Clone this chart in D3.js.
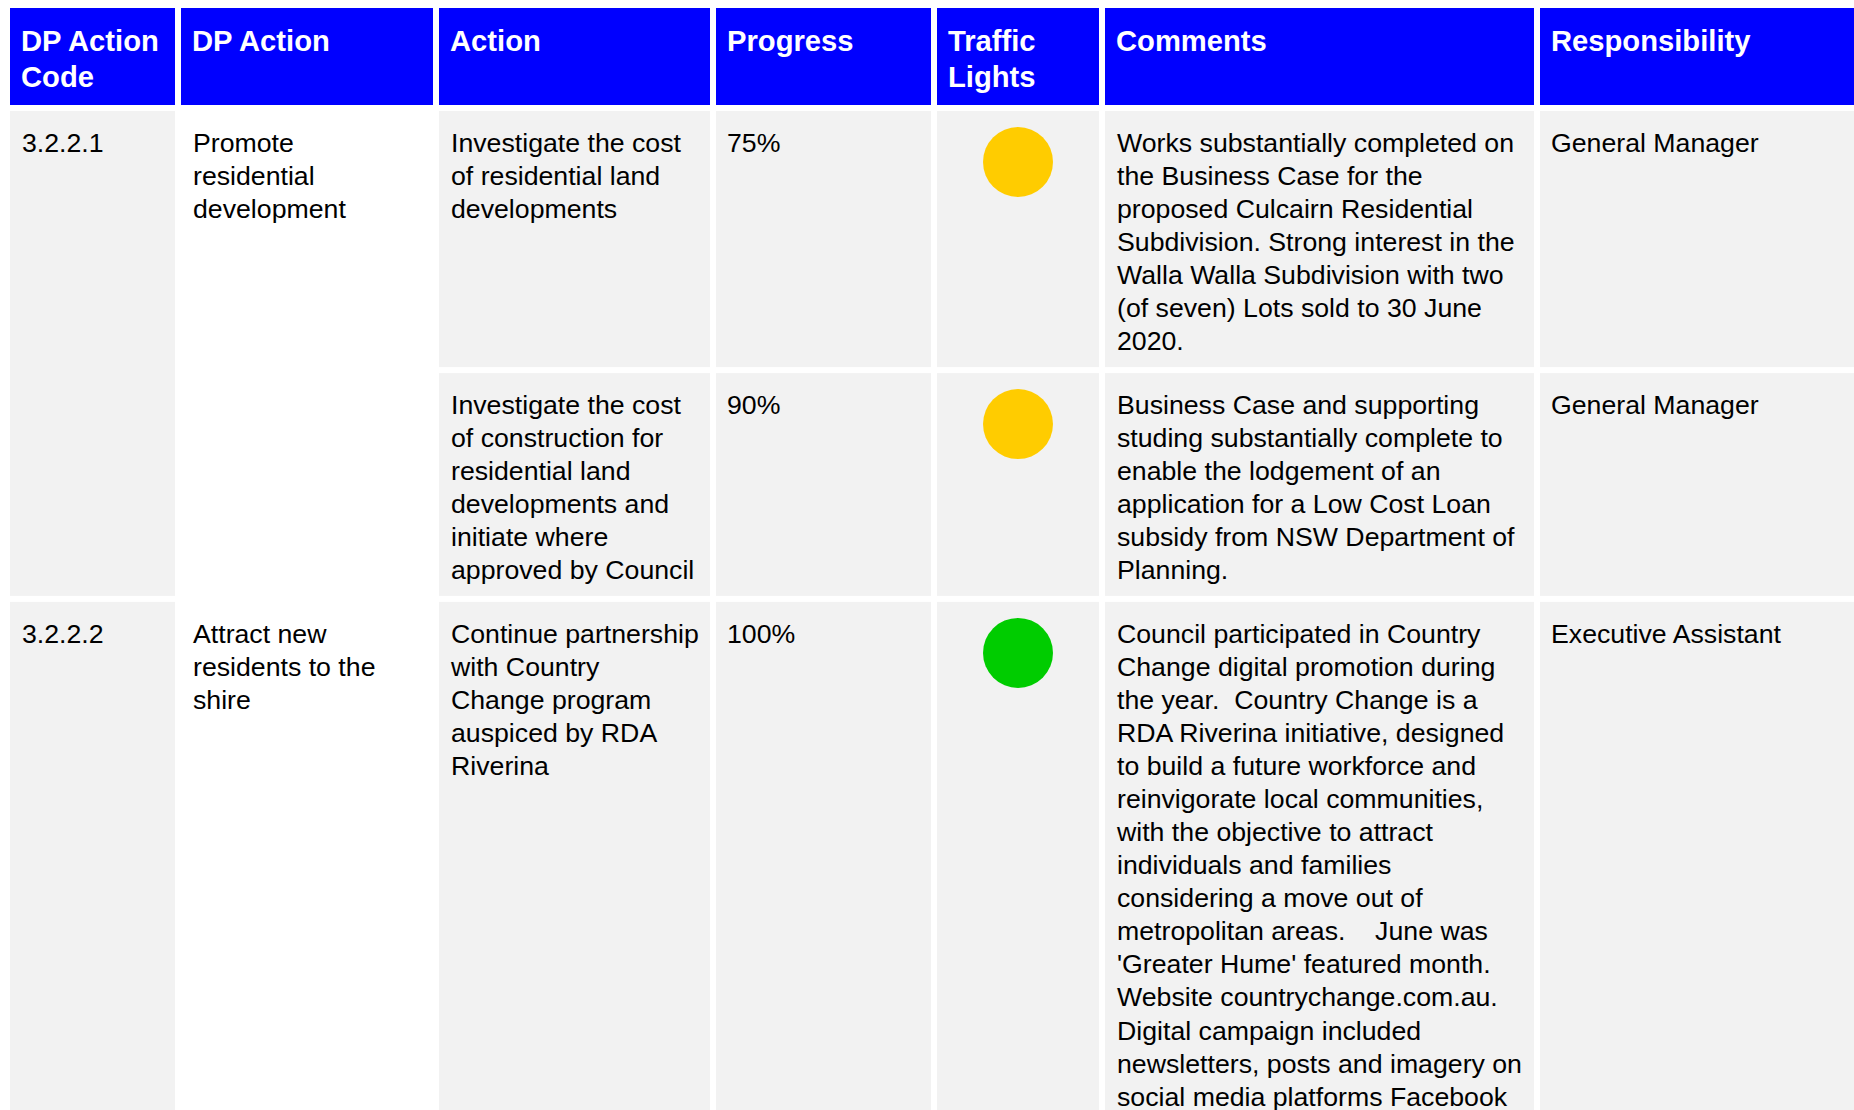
<!DOCTYPE html>
<html><head><meta charset="utf-8">
<script src="https://cdn.jsdelivr.net/npm/d3@7/dist/d3.min.js"></script>
<style>
html,body{margin:0;padding:0;background:#fff;overflow:hidden}
text{white-space:pre}
</style>
</head><body>
<svg id="c" width="1854" height="1110"></svg>
<script>
// ---------- data ----------
const headers = [["DP Action","Code"],["DP Action"],["Action"],["Progress"],["Traffic","Lights"],["Comments"],["Responsibility"]];
const codes = ["3.2.2.1","3.2.2.2"];
const dpActions = [["Promote","residential","development"],["Attract new","residents to the","shire"]];
const groupOfRow = [0,0,1];
const actions = [
  ["Investigate the cost","of residential land","developments"],
  ["Investigate the cost","of construction for","residential land","developments and","initiate where","approved by Council"],
  ["Continue partnership","with Country","Change program","auspiced by RDA","Riverina"]
];
const progress = ["75%","90%","100%"];
const lights = ["amber","amber","green"];
const comments = [
  ["Works substantially completed on","the Business Case for the","proposed Culcairn Residential","Subdivision. Strong interest in the","Walla Walla Subdivision with two","(of seven) Lots sold to 30 June","2020."],
  ["Business Case and supporting","studing substantially complete to","enable the lodgement of an","application for a Low Cost Loan","subsidy from NSW Department of","Planning."],
  ["Council participated in Country","Change digital promotion during","the year.  Country Change is a","RDA Riverina initiative, designed","to build a future workforce and","reinvigorate local communities,","with the objective to attract","individuals and families","considering a move out of","metropolitan areas.    June was","'Greater Hume' featured month.","Website countrychange.com.au.","Digital campaign included","newsletters, posts and imagery on","social media platforms Facebook"]
];
const responsibility = ["General Manager","General Manager","Executive Assistant"];

// ---------- layout / style ----------
const colWidths = [165,252,271,215,162,429,330];
const gap = 6, x0 = 10, headTop = 8, headH = 97, bodyTop = 111;
const padX = 12, firstBase = 41, lineH = 33.05, rowLineH = 33.3, headLineH = 36.3, headBase = 43;
const lightColor = {amber:"#FFCC00", green:"#00CC00"};
const BLUE = "#0000FF", GREY = "#F2F2F2";
const bodyFont = "26.7px", headFont = "29.2px";

const colX = [];
colWidths.reduce((acc,w,i)=>{colX[i]=acc; return acc+w+gap;}, x0);

const svg = d3.select("#c");
svg.append("rect").attr("width",1854).attr("height",1110).attr("fill","#fff");

// header
const hg = svg.append("g");
hg.selectAll("rect").data(headers).join("rect")
  .attr("x",(d,i)=>colX[i]).attr("y",headTop).attr("width",(d,i)=>colWidths[i]).attr("height",headH)
  .attr("fill",BLUE);
hg.selectAll("text").data(headers).join("text")
  .attr("x",(d,i)=>colX[i]+padX-1).attr("y",headTop+headBase)
  .attr("font-family","'Liberation Sans', Arial, sans-serif").attr("font-weight","bold")
  .attr("font-size",headFont).attr("fill","#fff")
  .each(function(lines,i){
    d3.select(this).selectAll("tspan").data(lines).join("tspan")
      .attr("x",colX[i]+padX-1).attr("dy",(l,j)=>j?headLineH:0).text(l=>l);
  });

// rows
const rowLines = actions.map((a,i)=>Math.max(a.length, comments[i].length, dpActions[groupOfRow[i]].length));
const rowH = rowLines.map(n=>23+n*rowLineH);
const rowY = [];
rowH.reduce((acc,h,i)=>{rowY[i]=acc; return acc+h+gap;}, bodyTop);

const groups = codes.map((c,g)=>{
  const idx = groupOfRow.map((gg,i)=>gg===g?i:-1).filter(i=>i>=0);
  const top = rowY[idx[0]], last = idx[idx.length-1];
  return {code:c, dp:dpActions[g], top, bottom:rowY[last]+rowH[last]};
});

function addText(sel, x, y, lines){
  const t = sel.append("text").attr("x",x).attr("y",y)
    .attr("font-family","'Liberation Sans', Arial, sans-serif")
    .attr("font-size",bodyFont).attr("fill","#000");
  t.selectAll("tspan").data(lines).join("tspan")
    .attr("x",x).attr("dy",(l,j)=>j?lineH:0).text(l=>l);
}

const bg = svg.append("g");
// merged group cells: col 0 grey, col 1 white
groups.forEach(g=>{
  bg.append("rect").attr("x",colX[0]).attr("y",g.top).attr("width",colWidths[0]).attr("height",g.bottom-g.top).attr("fill",GREY);
  bg.append("rect").attr("x",colX[1]).attr("y",g.top).attr("width",colWidths[1]).attr("height",g.bottom-g.top).attr("fill","#fff");
  addText(bg, colX[0]+padX, g.top+firstBase, [g.code]);
  addText(bg, colX[1]+padX, g.top+firstBase, g.dp);
});

// per-row cells
actions.forEach((a,i)=>{
  for(let c=2;c<7;c++){
    bg.append("rect").attr("x",colX[c]).attr("y",rowY[i]).attr("width",colWidths[c]).attr("height",rowH[i]).attr("fill",GREY);
  }
  addText(bg, colX[2]+padX, rowY[i]+firstBase, a);
  addText(bg, colX[3]+padX-1, rowY[i]+firstBase, [progress[i]]);
  bg.append("circle").attr("cx",colX[4]+colWidths[4]/2).attr("cy",rowY[i]+51).attr("r",35)
    .attr("fill",lightColor[lights[i]]);
  addText(bg, colX[5]+padX, rowY[i]+firstBase, comments[i]);
  addText(bg, colX[6]+padX-1, rowY[i]+firstBase, [responsibility[i]]);
});
</script>
</body></html>
